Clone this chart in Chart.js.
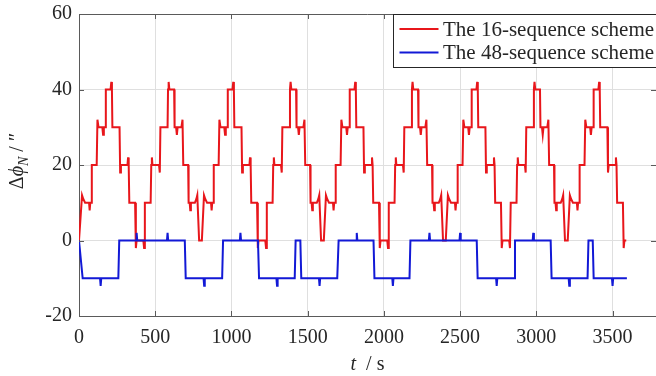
<!DOCTYPE html>
<html>
<head>
<meta charset="utf-8">
<script src="https://cdn.jsdelivr.net/npm/chart.js@4/dist/chart.umd.min.js"></script>
<style>
  html, body { margin: 0; padding: 0; background: #fff; }
  canvas { display: block; }
</style>
</head>
<body>
<canvas id="chart" width="656" height="376"></canvas>
<script>
// values, t in s, value in arcsec
const seriesNames = ['The 16-sequence scheme', 'The 48-sequence scheme'];
const xTicks = [0, 500, 1000, 1500, 2000, 2500, 3000, 3500];
const yTicks = [-20, 0, 20, 40, 60];

const red16 = [
  [0,0],[20,12],[28,11],[40,10],[66,10],[70,8],[74,10],[81,10],[84,20],[116,20],[121,32],[128,30],[153,30],[158,28],[163,30],[173,30],[176,40],[207,40],[212,42],[216,40],[219,30],[266,30],[270,18],[275,20],[318,20],[322,22],[326,20],[330,10],[368,10],[373,-2],[378,0],
  [422,0],[427,-2],[432,10],[470,10],[474,20],[478,22],[482,20],[525,20],[530,18],[534,30],[581,30],[584,40],[588,42],[593,40],[624,40],[627,30],[637,30],[642,28],[647,30],[672,30],[679,32],[684,20],[716,20],[719,10],[726,10],[730,8],[734,10],[760,10],[770,11],[776,12],[788,0],
  [806,0],[820,12],[828,11],[840,10],[866,10],[870,8],[874,10],[881,10],[884,20],[916,20],[921,32],[928,30],[953,30],[958,28],[963,30],[973,30],[976,40],[1007,40],[1012,42],[1016,40],[1019,30],[1066,30],[1070,18],[1075,20],[1118,20],[1122,22],[1126,20],[1130,10],[1168,10],[1173,-2],[1178,0],
  [1222,0],[1227,-2],[1232,10],[1270,10],[1274,20],[1278,22],[1282,20],[1325,20],[1330,18],[1334,30],[1381,30],[1384,40],[1388,42],[1393,40],[1424,40],[1427,30],[1437,30],[1442,28],[1447,30],[1472,30],[1479,32],[1484,20],[1516,20],[1519,10],[1526,10],[1530,8],[1534,10],[1560,10],[1570,11],[1576,12],[1588,0],
  [1606,0],[1620,12],[1628,11],[1640,10],[1666,10],[1670,8],[1674,10],[1681,10],[1684,20],[1716,20],[1721,32],[1728,30],[1753,30],[1758,28],[1763,30],[1773,30],[1776,40],[1807,40],[1812,42],[1816,40],[1819,30],[1866,30],[1870,18],[1875,20],[1918,20],[1922,22],[1926,20],[1930,10],[1968,10],[1973,-2],[1978,0],
  [2022,0],[2027,-2],[2032,10],[2070,10],[2074,20],[2078,22],[2082,20],[2125,20],[2130,18],[2134,30],[2181,30],[2184,40],[2188,42],[2193,40],[2224,40],[2227,30],[2237,30],[2242,28],[2247,30],[2272,30],[2279,32],[2284,20],[2316,20],[2319,10],[2326,10],[2330,8],[2334,10],[2360,10],[2370,11],[2376,12],[2388,0],
  [2406,0],[2420,12],[2428,11],[2440,10],[2466,10],[2470,8],[2474,10],[2481,10],[2484,20],[2516,20],[2521,32],[2528,30],[2553,30],[2558,28],[2563,30],[2573,30],[2576,40],[2607,40],[2612,42],[2616,40],[2619,30],[2666,30],[2670,18],[2675,20],[2718,20],[2722,22],[2726,20],[2730,10],[2768,10],[2773,-2],[2778,0],
  [2822,0],[2827,-2],[2832,10],[2870,10],[2874,20],[2878,22],[2882,20],[2925,20],[2930,18],[2934,30],[2981,30],[2984,40],[2988,42],[2993,40],[3024,40],[3027,30],[3037,30],[3042,28],[3047,30],[3072,30],[3079,32],[3084,20],[3116,20],[3119,10],[3126,10],[3130,8],[3134,10],[3160,10],[3170,11],[3176,12],[3188,0],
  [3206,0],[3220,12],[3228,11],[3240,10],[3266,10],[3270,8],[3274,10],[3281,10],[3284,20],[3316,20],[3321,32],[3328,30],[3353,30],[3358,28],[3363,30],[3373,30],[3376,40],[3407,40],[3412,42],[3416,40],[3419,30],[3466,30],[3470,18],[3475,20],[3518,20],[3522,22],[3526,20],[3530,10],[3568,10],[3573,-2],[3578,0],[3590,0]
];

const blue48 = [
  [0,0],[24,-10],[138,-10],[142,-12],[146,-10],[258,-10],[264,0],[374,0],[378,2],[382,0],[577,0],[581,2],[585,0],
  [694,0],[700,-10],[817,-10],[821,-12],[825,-10],[939,-10],[945,0],[1055,0],[1059,2],[1063,0],[1174,0],
  [1181,-10],[1295,-10],[1299,-12],[1303,-10],[1415,-10],[1421,0],[1452,0],[1458,-10],[1574,-10],[1578,-12],[1582,-10],
  [1694,-10],[1703,0],[1818,0],[1822,2],[1826,0],[1932,0],[1938,-10],[2055,-10],[2059,-12],[2063,-10],[2168,-10],
  [2174,0],[2295,0],[2299,2],[2303,0],[2496,0],[2500,2],[2504,0],[2609,0],[2615,-10],[2736,-10],[2740,-12],[2744,-10],
  [2854,-10],[2860,0],[2976,0],[2980,2],[2984,0],[3094,0],[3100,-10],[3212,-10],[3216,-12],[3220,-10],
  [3336,-10],[3342,0],[3370,0],[3376,-10],[3496,-10],[3500,-12],[3504,-10],[3594,-10]
];

const RED = '#e8161b';
const BLUE = '#1219d6';
const INK = '#262626';
const SERIF = '"Liberation Serif", "Times New Roman", serif';

// matlab-like box, inward ticks, legend and axis labels
const matlabAxes = {
  id: 'matlabAxes',
  afterDraw(c) {
    const { ctx, chartArea: a, scales: { x, y } } = c;
    ctx.save();
    ctx.strokeStyle = '#5a5a5a';
    ctx.lineWidth = 1;
    ctx.beginPath();
    ctx.moveTo(a.left, a.top + 0.5);
    ctx.lineTo(a.right, a.top + 0.5);
    xTicks.forEach(v => {
      const px = Math.round(x.getPixelForValue(v)) + 0.5;
      ctx.moveTo(px, a.bottom); ctx.lineTo(px, a.bottom - 5);
      ctx.moveTo(px, a.top); ctx.lineTo(px, a.top + 5);
    });
    yTicks.forEach(v => {
      const py = Math.round(y.getPixelForValue(v)) + 0.5;
      ctx.moveTo(a.left, py); ctx.lineTo(a.left + 5, py);
      ctx.moveTo(a.right, py); ctx.lineTo(a.right - 5, py);
    });
    ctx.stroke();

    // legend box
    const lx = 393.5, ly = a.top + 0.5;
    ctx.fillStyle = '#fff';
    ctx.fillRect(lx, ly, 280, 53);
    ctx.strokeStyle = INK;
    ctx.strokeRect(lx, ly, 280, 53);
    c.data.datasets.forEach((ds, i) => {
      const yy = ly + 14.5 + i * 23.5;
      ctx.strokeStyle = ds.borderColor;
      ctx.lineWidth = 2;
      ctx.beginPath();
      ctx.moveTo(lx + 6, yy); ctx.lineTo(lx + 45, yy);
      ctx.stroke();
      ctx.fillStyle = INK;
      ctx.font = '21px ' + SERIF;
      ctx.textBaseline = 'middle';
      ctx.textAlign = 'left';
      ctx.fillText(ds.label, lx + 49.5, yy + 1);
    });

    // x title: t / s
    ctx.fillStyle = INK;
    ctx.textBaseline = 'alphabetic';
    const xParts = [['t', 'italic 20px '], ['  / s', '20px ']];
    drawParts(ctx, xParts, (a.left + a.right) / 2, 370);

    // y title: Δϕ_N / ″
    ctx.translate(23, 161);
    ctx.rotate(-Math.PI / 2);
    const yParts = [['Δ', '20px '], ['ϕ', 'italic 20px '], ['N', 'italic 14px ', 5], [' / ″', '20px ']];
    drawParts(ctx, yParts, 0, 0);
    ctx.restore();
  }
};

function drawParts(ctx, parts, cx, by) {
  let w = 0;
  parts.forEach(p => { ctx.font = p[1] + SERIF; w += ctx.measureText(p[0]).width; });
  let px = cx - w / 2;
  ctx.textAlign = 'left';
  parts.forEach(p => {
    ctx.font = p[1] + SERIF;
    ctx.fillText(p[0], px, by + (p[2] || 0));
    px += ctx.measureText(p[0]).width;
  });
}

new Chart(document.getElementById('chart'), {
  type: 'line',
  data: {
    datasets: [
      { label: seriesNames[0], data: red16.map(([x, y]) => ({ x, y })), borderColor: RED, borderWidth: 2, pointRadius: 0, tension: 0, order: 1 },
      { label: seriesNames[1], data: blue48.map(([x, y]) => ({ x, y })), borderColor: BLUE, borderWidth: 2, pointRadius: 0, tension: 0, order: 0 }
    ]
  },
  options: {
    responsive: false,
    animation: false,
    layout: { padding: { left: 0, right: 0, top: 14, bottom: 0 } },
    scales: {
      x: {
        type: 'linear', min: 0, max: 3785,
        afterBuildTicks: s => { s.ticks = xTicks.map(value => ({ value })); },
        afterFit: s => { s.height = 60; s.paddingLeft = 0; s.paddingRight = 0; },
        grid: { color: '#dfdfdf', drawTicks: false },
        border: { color: '#5a5a5a', width: 1 },
        ticks: { padding: 10, color: INK, font: { family: SERIF, size: 20 }, maxRotation: 0, callback: v => String(v) }
      },
      y: {
        min: -20, max: 60,
        afterBuildTicks: s => { s.ticks = yTicks.map(value => ({ value })); },
        afterFit: s => { s.width = 79; s.paddingTop = 0; s.paddingBottom = 0; },
        grid: { color: '#dfdfdf', drawTicks: false },
        border: { color: '#5a5a5a', width: 1 },
        ticks: { padding: 7, color: INK, font: { family: SERIF, size: 20 }, callback: v => String(v) }
      }
    },
    plugins: { legend: { display: false }, tooltip: { enabled: false } }
  },
  plugins: [matlabAxes]
});
</script>
</body>
</html>
